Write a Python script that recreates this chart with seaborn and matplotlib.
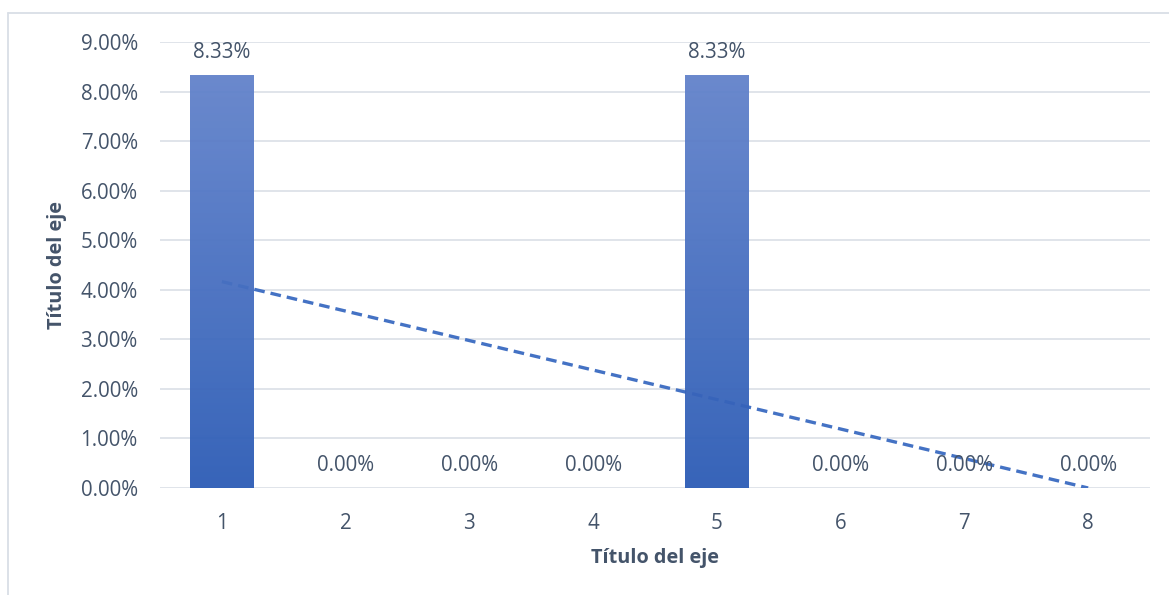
import numpy as np
import matplotlib
matplotlib.use("Agg")
import matplotlib.pyplot as plt
from matplotlib.colors import LinearSegmentedColormap
from matplotlib.lines import Line2D
import seaborn as sns

# Share of each category (percent)
categories = ["1", "2", "3", "4", "5", "6", "7", "8"]
values = [8.33, 0.0, 0.0, 0.0, 8.33, 0.0, 0.0, 0.0]
y_ticks = [0, 1, 2, 3, 4, 5, 6, 7, 8, 9]
x_title = "Título del eje"
y_title = "Título del eje"

TEXT = "#44546A"
GRID = "#E0E4EA"
BAR_TOP = "#6383CB"
BAR_BOTTOM = "#2C5CB6"
TREND = "#4472C4"
FS = 14.8

sns.set_theme(style="white")
plt.rcParams["font.family"] = ["Open Sans", "DejaVu Sans"]

fig = plt.figure(figsize=(11.69, 5.95), dpi=100)
ax = fig.add_axes([160 / 1169, 1 - 488 / 595, (1150 - 160) / 1169, (488 - 42) / 595])

sns.barplot(x=categories, y=values, color=BAR_BOTTOM, width=0.51, ax=ax, zorder=3)

# vertical gradient fill for each bar, clipped to the bar shape
cmap = LinearSegmentedColormap.from_list("bar_grad", [BAR_TOP, BAR_BOTTOM])
grad = np.linspace(0, 1, 256).reshape(-1, 1)
for patch in ax.patches:
    x0, y0 = patch.get_x(), patch.get_y()
    w, h = patch.get_width(), patch.get_height()
    if h <= 0:
        patch.set_visible(False)
        continue
    im = ax.imshow(grad, cmap=cmap, aspect="auto", extent=(x0, x0 + w, y0, y0 + h),
                   origin="upper", zorder=3, alpha=0.95)
    im.set_clip_path(patch)
    patch.set_facecolor("none")
    patch.set_edgecolor("none")

# linear trend line over the category positions
xs = np.arange(1, len(values) + 1)
slope, intercept = np.polyfit(xs, values, 1)
trend = slope * xs + intercept
ax.plot(xs - 1, trend, color=TREND, lw=2.4, ls=(0, (3.2, 1.8)), zorder=2,
        solid_capstyle="butt", dash_capstyle="butt")

# value labels
for i, v in enumerate(values):
    ax.annotate(f"{v:.2f}%", (i, v), xytext=(0, 16), textcoords="offset points",
                ha="center", va="center", color=TEXT, fontsize=FS, zorder=4)

ax.set_xlim(-0.5, len(values) - 0.5)
ax.set_ylim(0, 9)
ax.set_yticks(y_ticks)
ax.set_yticklabels([f"{t:.2f}%" for t in y_ticks])
ax.yaxis.grid(True, color=GRID, lw=1.4, zorder=0)
ax.set_axisbelow(True)
for s in ax.spines.values():
    s.set_visible(False)
ax.tick_params(axis="y", length=0, pad=16, labelcolor=TEXT, labelsize=FS)
ax.tick_params(axis="x", length=0, pad=18, labelcolor=TEXT, labelsize=FS)

ax.set_xlabel(x_title, fontsize=14.3, fontweight="bold", color=TEXT, labelpad=10)
ax.set_ylabel(y_title, fontsize=14.3, fontweight="bold", color=TEXT, labelpad=10)

# chart-area frame
fig.add_artist(Line2D([8 / 1169, 8 / 1169], [0, 1 - 13 / 595], transform=fig.transFigure,
                      color="#D9DEE6", lw=1.3))
fig.add_artist(Line2D([8 / 1169, 1], [1 - 13 / 595, 1 - 13 / 595], transform=fig.transFigure,
                      color="#D9DEE6", lw=1.3))

fig.savefig("out.png", dpi=100, facecolor="white")
